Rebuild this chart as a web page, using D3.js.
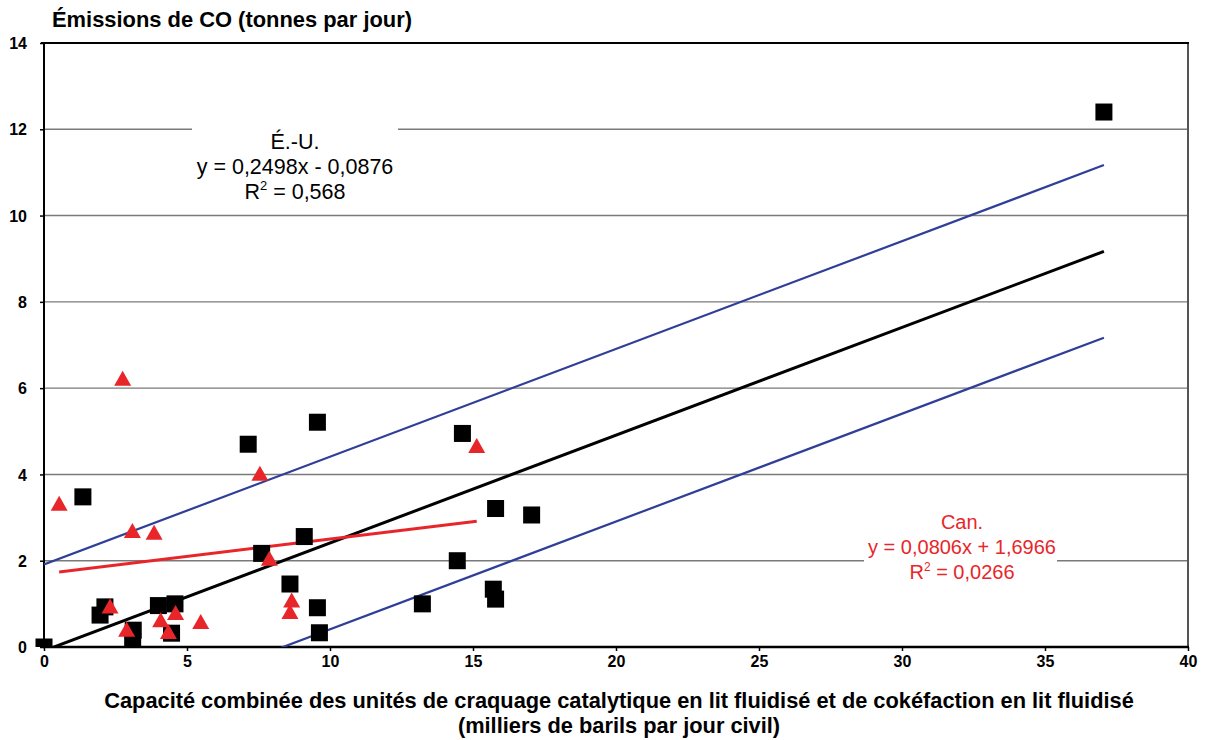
<!DOCTYPE html>
<html>
<head>
<meta charset="utf-8">
<script src="https://cdn.jsdelivr.net/npm/d3@7"></script>
<style>
  html, body { margin: 0; padding: 0; background: #fff; }
  svg { display: block; font-family: "Liberation Sans", Arial, sans-serif; }
</style>
</head>
<body>
<svg id="chart" width="1207" height="740"></svg>
<script>
// ---------------- data ----------------
const usX = [0, 1.36, 1.96, 2.13, 3.12, 3.10, 4.0, 4.58, 4.46, 7.14, 9.56, 9.10, 7.61, 8.60, 9.56, 9.63, 14.63, 15.79, 17.05, 14.45, 13.23, 15.71, 15.79, 37.06];
const usY = [0, 3.48, 0.74, 0.93, 0.39, 0.16, 0.96, 1.00, 0.32, 4.70, 5.21, 2.56, 2.17, 1.46, 0.91, 0.33, 4.95, 3.21, 3.06, 2.00, 1.00, 1.34, 1.11, 12.40];
const canX = [2.75, 0.53, 7.55, 3.09, 3.85, 7.88, 2.31, 2.89, 4.08, 4.60, 4.35, 5.48, 8.66, 8.60, 15.13];
const canY = [6.23, 3.33, 4.03, 2.70, 2.66, 2.06, 0.95, 0.41, 0.63, 0.80, 0.36, 0.59, 1.09, 0.82, 4.67];
const usFit = [0.2498, -0.0876];   // slope, intercept
const usBand = 2.0;               // offset of the blue bounding lines
const canFit = [0.0806, 1.6966];
const xTicks = [0, 5, 10, 15, 20, 25, 30, 35, 40];
const yTicks = [0, 2, 4, 6, 8, 10, 12, 14];
const usLabel = ["É.-U.", "y = 0,2498x - 0,0876", "0,568"];
const canLabel = ["Can.", "y = 0,0806x + 1,6966", "0,0266"];
const yTitle = "Émissions de CO (tonnes par jour)";
const xTitle = ["Capacité combinée des unités de craquage catalytique en lit fluidisé et de cokéfaction en lit fluidisé",
                "(milliers de barils par jour civil)"];

// ---------------- layout ----------------
const svg = d3.select("#chart");
const L = 44, R = 1188, T = 43, B = 647;
const x = d3.scaleLinear().domain([0, 40]).range([L, R]);
const y = d3.scaleLinear().domain([0, 14]).range([B, T]);
const RED = "#e8262a", BLUE = "#2f3f98";

svg.append("defs").append("clipPath").attr("id", "plotclip")
  .append("rect").attr("x", L).attr("y", T).attr("width", R - L).attr("height", B - T);
svg.append("defs").append("clipPath").attr("id", "markclip")
  .append("rect").attr("x", 0).attr("y", 0).attr("width", 1207).attr("height", B);

// gridlines
svg.append("g").selectAll("line").data(yTicks.filter(d => d > 0 && d < 14)).join("line")
  .attr("x1", L).attr("x2", R).attr("y1", d => y(d)).attr("y2", d => y(d))
  .attr("stroke", "#7a7a7a").attr("stroke-width", 1.4);

// label boxes (white background breaking gridlines)
svg.append("rect").attr("x", 192).attr("y", 110).attr("width", 206).attr("height", 98).attr("fill", "#fff");
svg.append("rect").attr("x", 864).attr("y", 505).attr("width", 193).attr("height", 80).attr("fill", "#fff");

// axes
const xAxis = d3.axisBottom(x).tickValues(xTicks).tickSize(4).tickFormat(d3.format("d"));
const gx = svg.append("g").attr("transform", `translate(0,${B})`).call(xAxis);
gx.select(".domain").remove();
gx.selectAll(".tick line").attr("stroke", "#000").attr("stroke-width", 1.5);
gx.selectAll(".tick text").attr("y", 9).attr("dy", "0.71em")
  .attr("font-size", 16).attr("font-weight", "bold").attr("fill", "#000")
  .attr("font-family", "'Liberation Sans', Arial, sans-serif");

const yAxis = d3.axisLeft(y).tickValues(yTicks).tickSize(4).tickFormat(d3.format("d"));
const gy = svg.append("g").attr("transform", `translate(${L},0)`).call(yAxis);
gy.select(".domain").remove();
gy.selectAll(".tick line").attr("stroke", "#000").attr("stroke-width", 1.5);
gy.selectAll(".tick text").attr("x", -17).attr("dy", "0.35em")
  .attr("font-size", 16).attr("font-weight", "bold").attr("fill", "#000")
  .attr("font-family", "'Liberation Sans', Arial, sans-serif");

// frame
svg.append("line").attr("x1", R).attr("x2", R).attr("y1", T).attr("y2", B)
  .attr("stroke", "#555").attr("stroke-width", 2);
svg.append("line").attr("x1", L - 3).attr("x2", R + 1).attr("y1", T).attr("y2", T)
  .attr("stroke", "#000").attr("stroke-width", 2);
svg.append("line").attr("x1", L).attr("x2", L).attr("y1", T - 1).attr("y2", B + 1)
  .attr("stroke", "#000").attr("stroke-width", 2);
svg.append("line").attr("x1", L - 1).attr("x2", R + 1).attr("y1", B).attr("y2", B)
  .attr("stroke", "#000").attr("stroke-width", 2.5);

// fit lines
const lineGen = d3.line().x(d => x(d[0])).y(d => y(d[1]));
const usXmax = d3.max(usX), usXmin = d3.min(usX);
const fit = (c, off) => v => c[0] * v + c[1] + off;
const lines = svg.append("g").attr("clip-path", "url(#plotclip)");
const fUp = fit(usFit, usBand), fLo = fit(usFit, -usBand), fMid = fit(usFit, 0), fCan = fit(canFit, 0);
lines.append("path").datum([[usXmin, fUp(usXmin)], [usXmax, fUp(usXmax)]])
  .attr("d", lineGen).attr("stroke", BLUE).attr("stroke-width", 2.2).attr("fill", "none");
lines.append("path").datum([[usXmin, fLo(usXmin)], [usXmax, fLo(usXmax)]])
  .attr("d", lineGen).attr("stroke", BLUE).attr("stroke-width", 2.2).attr("fill", "none");

// markers
const marks = svg.append("g").attr("clip-path", "url(#markclip)");
marks.selectAll("rect").data(usX.map((v, i) => [v, usY[i]])).join("rect")
  .attr("x", d => x(d[0]) - 8.5).attr("y", d => y(d[1]) - 8.5)
  .attr("width", 17).attr("height", 17).attr("fill", "#000");

lines.append("path").datum([[usXmin, fMid(usXmin)], [usXmax, fMid(usXmax)]])
  .attr("d", lineGen).attr("stroke", "#000").attr("stroke-width", 3).attr("fill", "none");

marks.selectAll("path.tri").data(canX.map((v, i) => [v, canY[i]])).join("path")
  .attr("class", "tri")
  .attr("d", d => `M${x(d[0])},${y(d[1]) - 7.5}L${x(d[0]) + 8.5},${y(d[1]) + 7.5}L${x(d[0]) - 8.5},${y(d[1]) + 7.5}Z`)
  .attr("fill", RED);

const cMin = d3.min(canX), cMax = d3.max(canX);
lines.append("path").datum([[cMin, fCan(cMin)], [cMax, fCan(cMax)]])
  .attr("d", lineGen).attr("stroke", RED).attr("stroke-width", 3).attr("fill", "none");

// equation labels
function eqLabel(lbl, cx, y0, fs, color) {
  const t = svg.append("text").attr("text-anchor", "middle").attr("font-size", fs).attr("fill", color);
  t.append("tspan").attr("x", cx).attr("y", y0).text(lbl[0]);
  t.append("tspan").attr("x", cx).attr("y", y0 + 25).text(lbl[1]);
  const t3 = svg.append("text").attr("text-anchor", "middle").attr("font-size", fs).attr("fill", color)
    .attr("x", cx).attr("y", y0 + 50);
  t3.append("tspan").text("R");
  t3.append("tspan").attr("font-size", fs * 0.6).attr("dy", -fs * 0.4).text("2");
  t3.append("tspan").attr("dy", fs * 0.4).text(" = " + lbl[2]);
}
eqLabel(usLabel, 295, 149, 21.5, "#000");
eqLabel(canLabel, 962, 529, 20, RED);

// titles
svg.append("text").attr("x", 52).attr("y", 27).attr("font-size", 21.9).attr("font-weight", "bold")
  .attr("fill", "#000").text(yTitle);
svg.append("text").attr("x", 619).attr("y", 708).attr("text-anchor", "middle")
  .attr("font-size", 21.8).attr("font-weight", "bold").text(xTitle[0]);
svg.append("text").attr("x", 619).attr("y", 733).attr("text-anchor", "middle")
  .attr("font-size", 21.8).attr("font-weight", "bold").text(xTitle[1]);
</script>
</body>
</html>
